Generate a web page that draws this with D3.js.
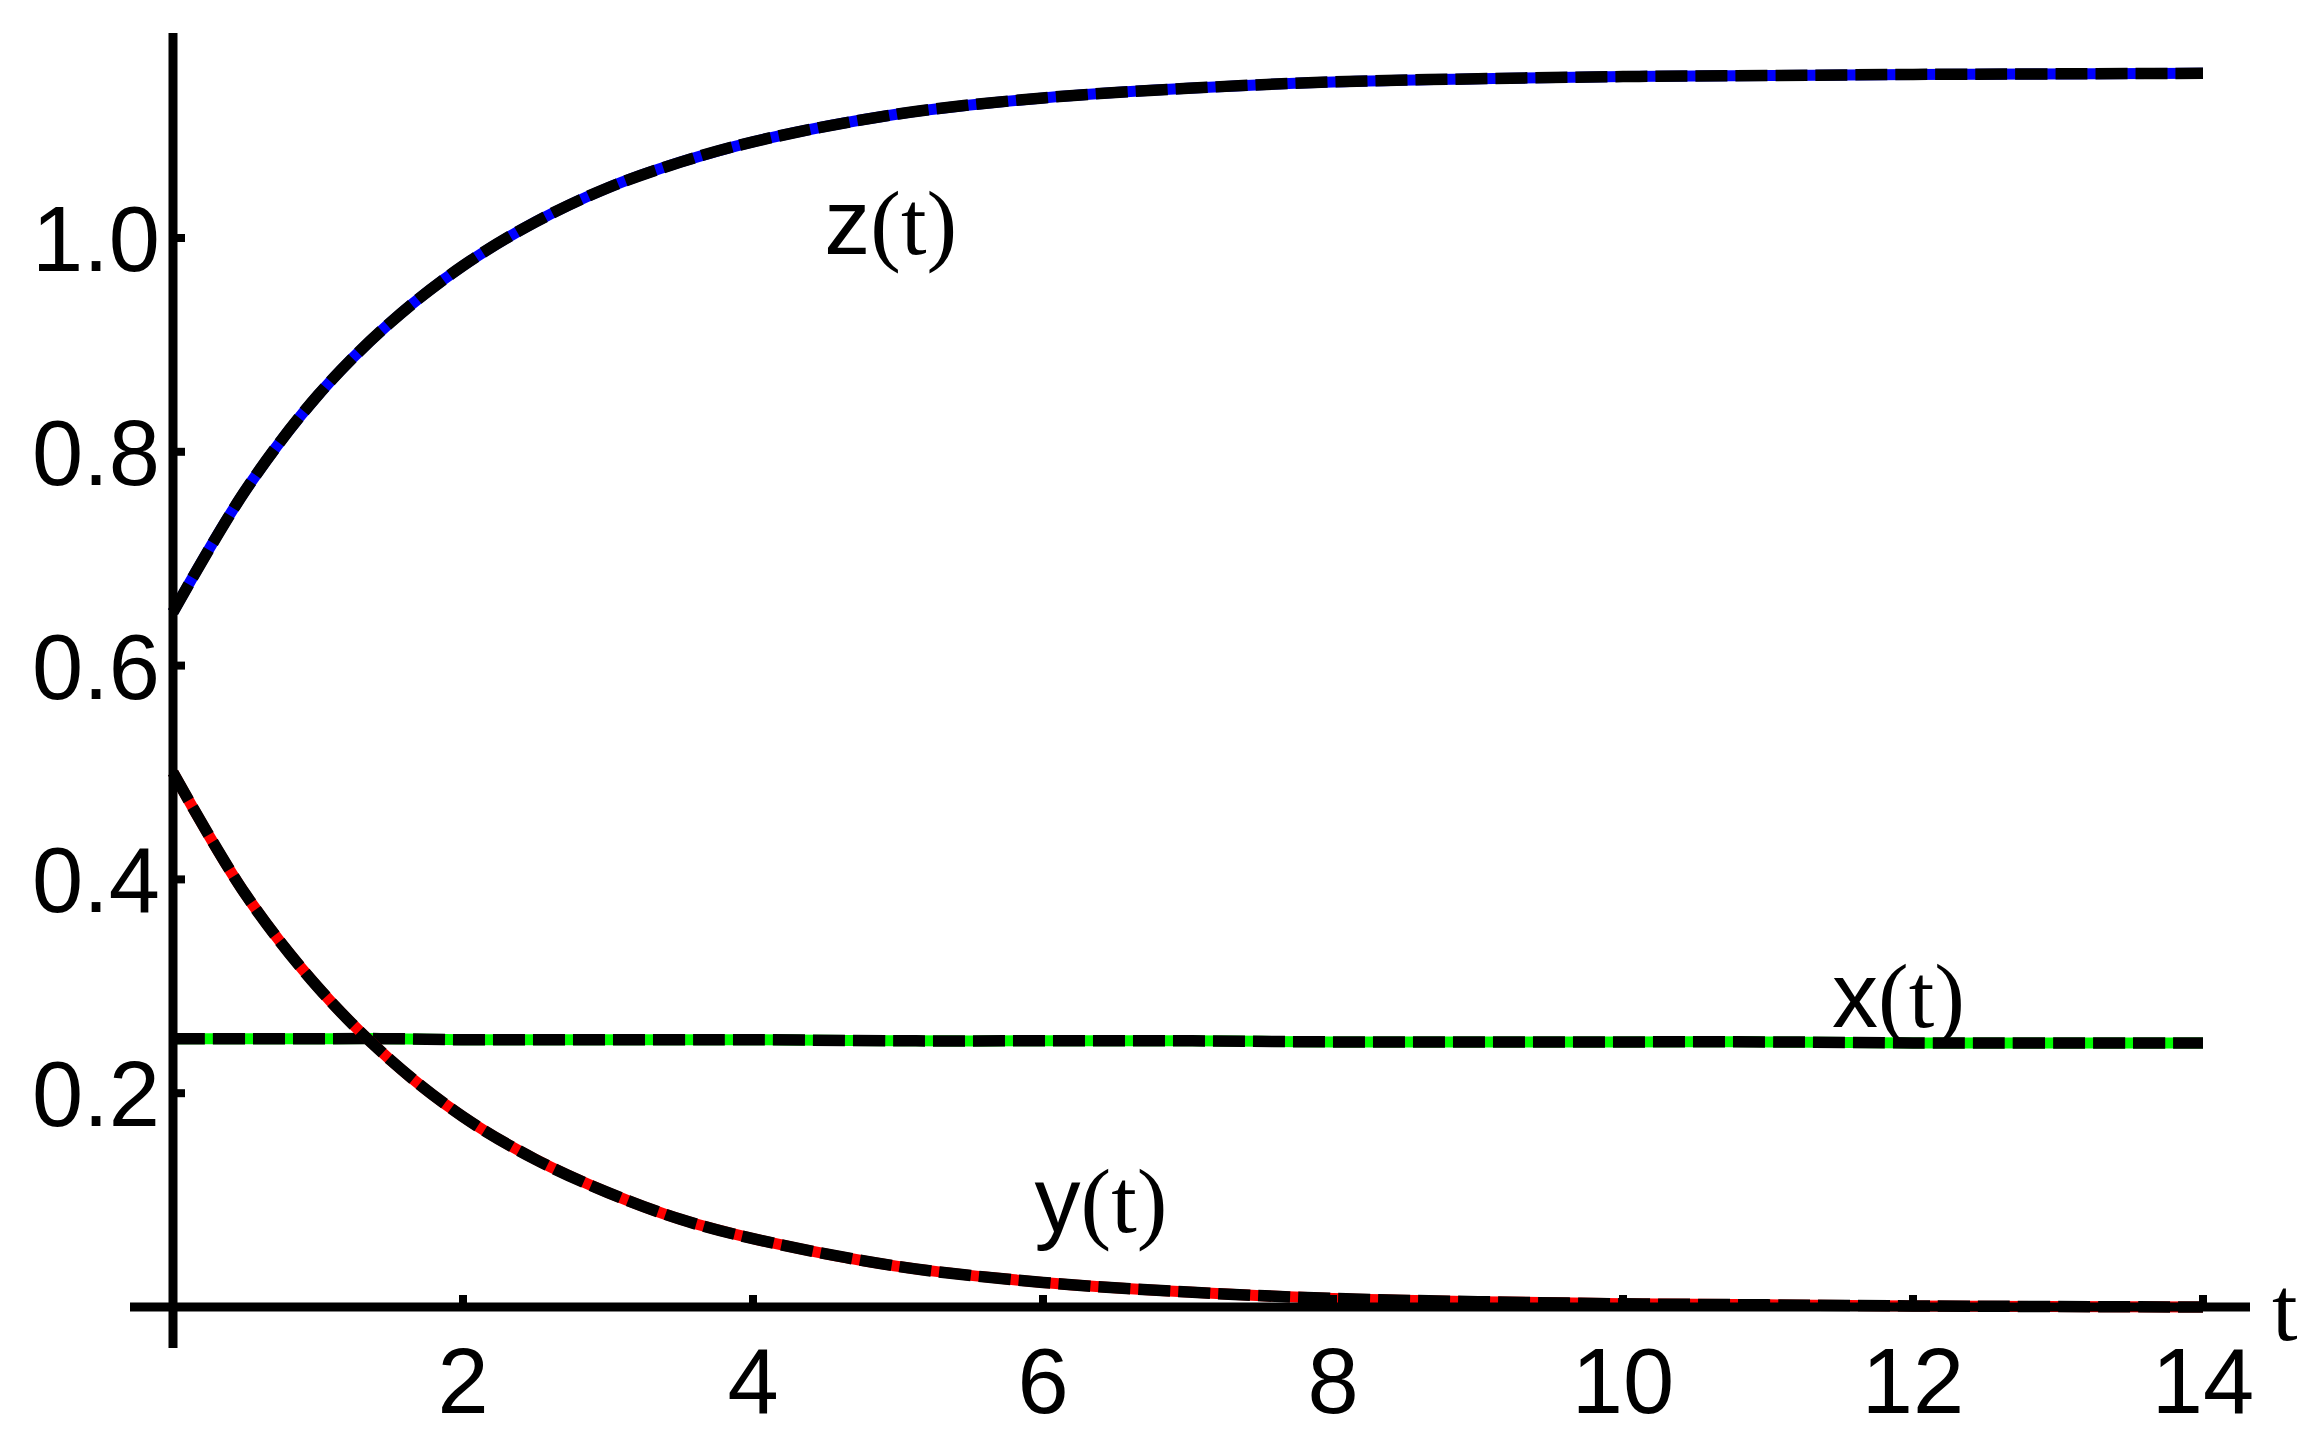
<!DOCTYPE html>
<html>
<head>
<meta charset="utf-8">
<script src="https://cdn.jsdelivr.net/npm/d3@7"></script>
<style>
  body { margin: 0; background: #fff; }
</style>
</head>
<body>
<div id="chart-area"></div>
<script>
// values
const tValues = [0, 0.5, 1, 1.5, 2, 2.5, 3, 3.5, 4, 5, 6, 7, 8, 9, 10, 11, 12, 14];
const xValues = [0.251, 0.251, 0.251, 0.251, 0.250, 0.250, 0.250, 0.250, 0.250, 0.249, 0.249, 0.249, 0.248, 0.248, 0.248, 0.248, 0.247, 0.247];
const yValues = [0.5, 0.386, 0.299, 0.231, 0.178, 0.138, 0.107, 0.082, 0.064, 0.038, 0.023, 0.014, 0.008, 0.005, 0.003, 0.002, 0.001, 0.0];
const zValues = [0.650, 0.764, 0.853, 0.921, 0.974, 1.015, 1.047, 1.071, 1.090, 1.116, 1.131, 1.140, 1.146, 1.149, 1.151, 1.152, 1.153, 1.154];
const xTicks = [2, 4, 6, 8, 10, 12, 14];
const yTicks = [0.2, 0.4, 0.6, 0.8, 1.0];

const series = [
  { name: 'z', values: zValues, color: '#0000ff', label: 'z', lx: 4.95, ly: 0.985 },
  { name: 'x', values: xValues, color: '#00ff00', label: 'x', lx: 11.9, ly: 0.262 },
  { name: 'y', values: yValues, color: '#ff0000', label: 'y', lx: 6.4, ly: 0.07 }
];

const W = 2310, H = 1437;
const svg = d3.select('#chart-area').append('svg')
  .attr('width', W).attr('height', H);

const x = d3.scaleLinear().domain([0, 14]).range([173, 2203]);
const y = d3.scaleLinear().domain([0, 1.0]).range([1307, 238]);

const line = d3.line().curve(d3.curveCatmullRom);

series.forEach((s) => {
  const pts = tValues.map((t, i) => [x(t), y(s.values[i])]);
  svg.append('path').attr('d', line(pts))
    .attr('fill', 'none').attr('stroke', s.color).attr('stroke-width', 11);
  svg.append('path').attr('d', line(pts))
    .attr('fill', 'none').attr('stroke', '#000').attr('stroke-width', 11.5)
    .attr('stroke-dasharray', '32 8');
});

// axes
svg.append('line').attr('x1', x(0)).attr('x2', x(0)).attr('y1', 33).attr('y2', 1348)
  .attr('stroke', '#000').attr('stroke-width', 9);
svg.append('line').attr('x1', 130).attr('x2', 2250).attr('y1', y(0)).attr('y2', y(0))
  .attr('stroke', '#000').attr('stroke-width', 9);

const font = 'Liberation Sans, Arial, sans-serif';

xTicks.forEach((t) => {
  svg.append('line').attr('x1', x(t)).attr('x2', x(t)).attr('y1', y(0)).attr('y2', y(0) - 12)
    .attr('stroke', '#000').attr('stroke-width', 8);
  svg.append('text').attr('x', x(t)).attr('y', 1413).attr('text-anchor', 'middle')
    .attr('font-family', font).attr('font-size', 92).text(t);
});
yTicks.forEach((v) => {
  svg.append('line').attr('x1', x(0)).attr('x2', x(0) + 12).attr('y1', y(v)).attr('y2', y(v))
    .attr('stroke', '#000').attr('stroke-width', 8);
  svg.append('text').attr('x', 160).attr('y', y(v) + 33).attr('text-anchor', 'end')
    .attr('font-family', font).attr('font-size', 92).text(v.toFixed(1));
});

svg.append('text').attr('x', 2272).attr('y', 1340)
  .attr('font-family', 'Liberation Serif, serif').attr('font-size', 92).text('t');

series.forEach((s) => {
  const txt = svg.append('text').attr('x', x(s.lx)).attr('y', y(s.ly))
    .attr('text-anchor', 'middle').attr('font-size', 92);
  txt.append('tspan').attr('font-family', font).text(s.label);
  txt.append('tspan').attr('font-family', 'Liberation Serif, serif').text('(t)');
});
</script>
</body>
</html>
